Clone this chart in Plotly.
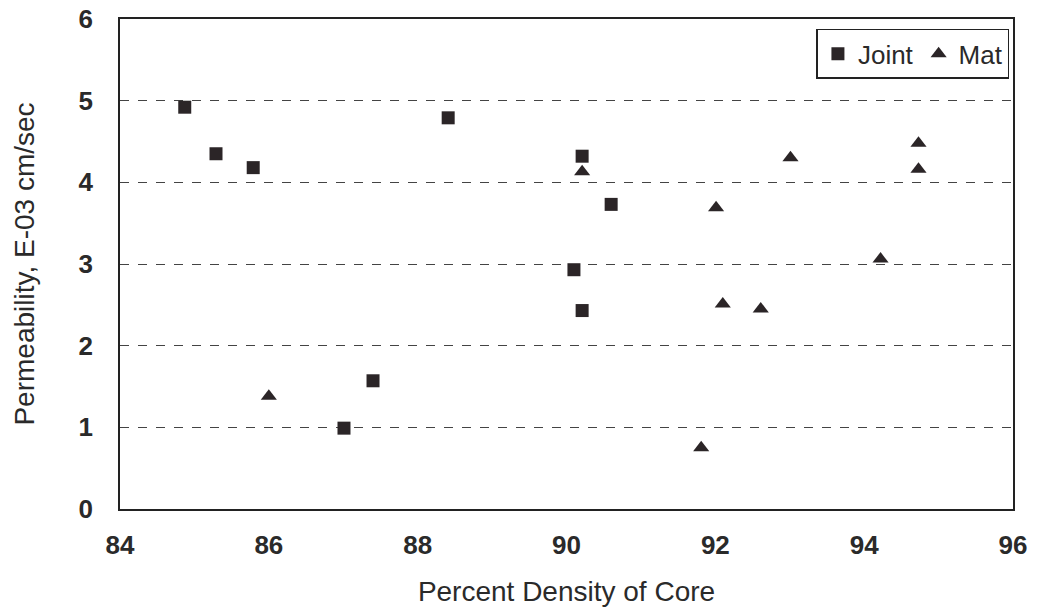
import plotly.graph_objects as go

# Joint cores: percent density vs permeability (E-03 cm/sec)
joint_density = [84.87, 85.29, 85.79, 88.41, 90.21, 90.60, 90.10, 90.21, 87.40, 87.01]
joint_perm = [4.92, 4.35, 4.18, 4.79, 4.32, 3.73, 2.93, 2.43, 1.57, 0.99]

# Mat cores
mat_density = [86.00, 90.21, 92.01, 93.01, 92.10, 92.61, 91.81, 94.22, 94.73, 94.73]
mat_perm = [1.38, 4.13, 3.69, 4.30, 2.51, 2.45, 0.75, 3.06, 4.48, 4.16]

x_ticks = [84, 86, 88, 90, 92, 94, 96]
y_ticks = [0, 1, 2, 3, 4, 5, 6]

mark_color = "#2b2527"
text_color = "#2a2a2a"
font_family = "Liberation Sans, Arial, sans-serif"

fig = go.Figure()
fig.add_trace(go.Scatter(
    x=joint_density, y=joint_perm, mode="markers", name="Joint",
    marker=dict(symbol="square", size=13, color=mark_color),
))
fig.add_trace(go.Scatter(
    x=mat_density, y=mat_perm, mode="markers", name="Mat",
    marker=dict(symbol="triangle-up", size=14, color=mark_color),
))

fig.update_layout(
    width=1037, height=611,
    margin=dict(l=120, r=24, t=19, b=102),
    paper_bgcolor="white", plot_bgcolor="white",
    font=dict(family=font_family, color=text_color),
    showlegend=True,
    legend=dict(
        orientation="h", x=0.996, y=0.98, xanchor="right", yanchor="top",
        bordercolor="#222222", borderwidth=1.5, bgcolor="white",
        font=dict(size=26, color=text_color),
        itemwidth=30, tracegroupgap=0,
    ),
)

fig.update_xaxes(
    range=[84, 96], tickvals=x_ticks, ticktext=[str(v) for v in x_ticks],
    showgrid=False, zeroline=False, automargin=False,
    showline=True, linecolor="#222222", linewidth=1.5, mirror=True,
    ticks="", ticklabelstandoff=12,
    tickfont=dict(size=26, family=font_family, weight="bold", color=text_color),
    title=dict(text="Percent Density of Core", font=dict(size=28), standoff=22),
)
fig.update_yaxes(
    range=[0, 6], tickvals=y_ticks, ticktext=[str(v) for v in y_ticks],
    showgrid=True, gridcolor="#444444", griddash="dash", gridwidth=1,
    zeroline=False, automargin=False,
    showline=True, linecolor="#222222", linewidth=1.5, mirror=True,
    ticks="", ticklabelstandoff=20,
    tickfont=dict(size=26, family=font_family, weight="bold", color=text_color),
    title=dict(text="Permeability, E-03 cm/sec", font=dict(size=28), standoff=36),
)

fig.write_html("out.html")
